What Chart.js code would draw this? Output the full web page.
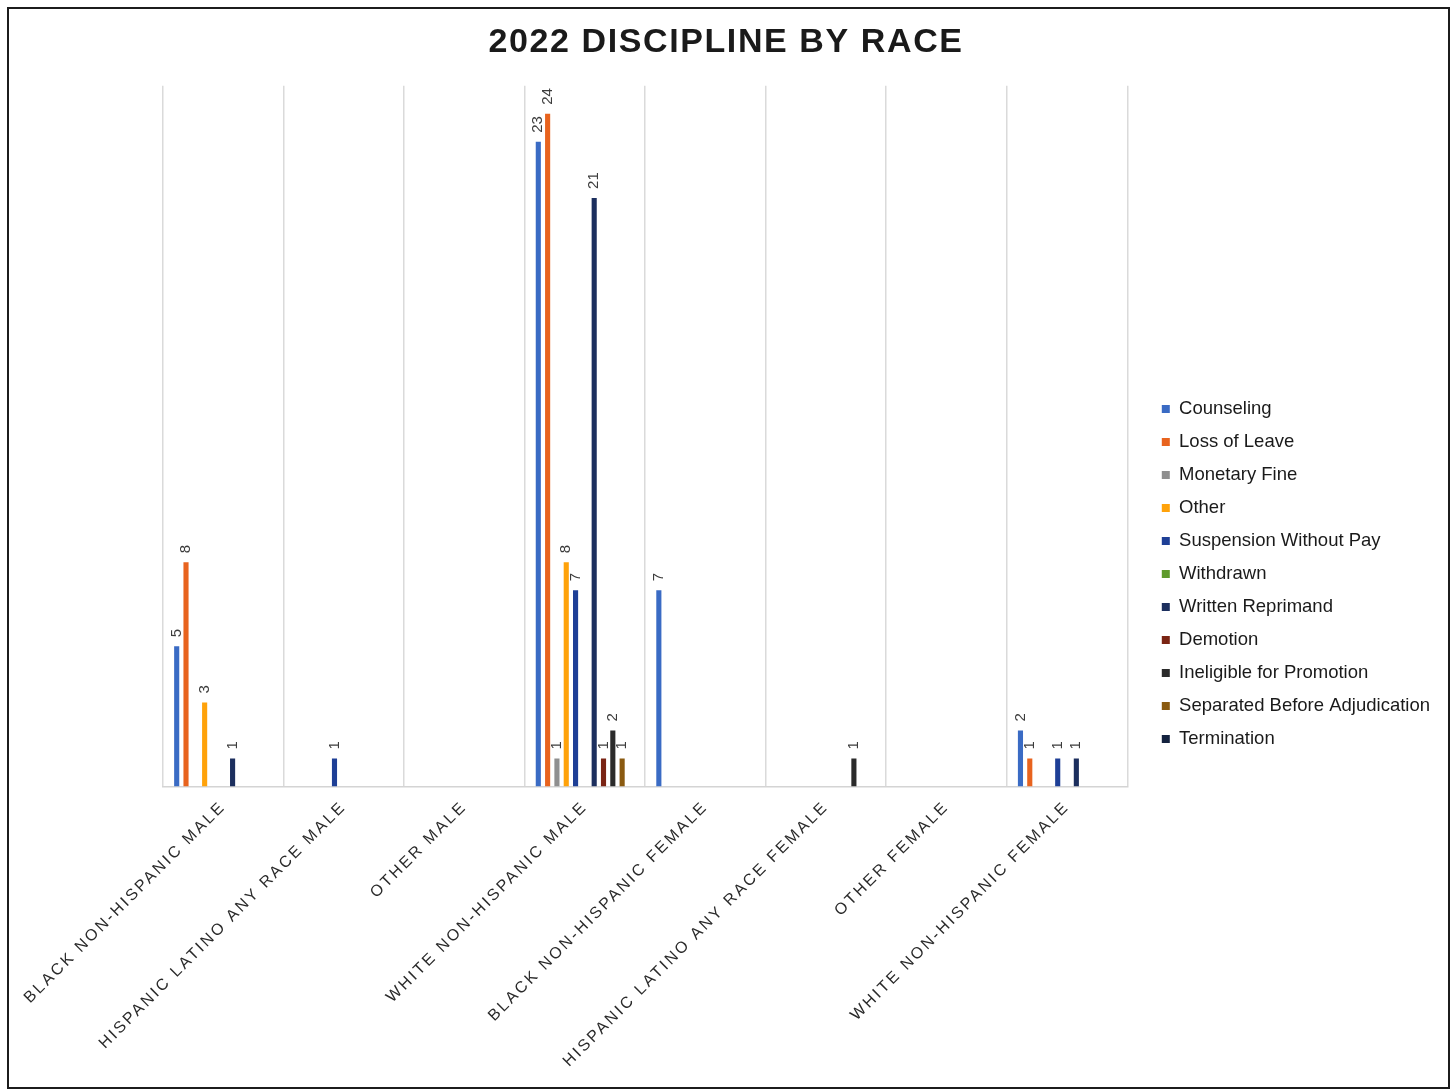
<!DOCTYPE html>
<html>
<head>
<meta charset="utf-8">
<title>2022 Discipline by Race</title>
<script src="https://cdn.jsdelivr.net/npm/chart.js@4.4.1/dist/chart.umd.min.js"></script>
<style>
  html, body { margin: 0; padding: 0; background: #fff; }
  #wrap { position: relative; width: 1455px; height: 1090px; }
  #chart { position: absolute; left: 0; top: 0; }
  #frame {
    position: absolute; left: 7px; top: 7px; width: 1443px; height: 1082px;
    box-sizing: border-box; border: 2px solid #1c1c1c; pointer-events: none;
  }
</style>
</head>
<body>
<div id="wrap">
  <canvas id="chart" width="1455" height="1090"></canvas>
  <div id="frame"></div>
</div>
<script>
// Categories (race / sex groups)
const categories = [
  'BLACK NON-HISPANIC MALE',
  'HISPANIC LATINO ANY RACE MALE',
  'OTHER MALE',
  'WHITE NON-HISPANIC MALE',
  'BLACK NON-HISPANIC FEMALE',
  'HISPANIC LATINO ANY RACE FEMALE',
  'OTHER FEMALE',
  'WHITE NON-HISPANIC FEMALE'
];

// Discipline types, one series each (null = no cases)
const counseling         = [5, null, null, 23, 7, null, null, 2];
const lossOfLeave        = [8, null, null, 24, null, null, null, 1];
const monetaryFine       = [null, null, null, 1, null, null, null, null];
const other              = [3, null, null, 8, null, null, null, null];
const suspensionNoPay    = [null, 1, null, 7, null, null, null, 1];
const withdrawn          = [null, null, null, null, null, null, null, null];
const writtenReprimand   = [1, null, null, 21, null, null, null, 1];
const demotion           = [null, null, null, 1, null, null, null, null];
const ineligiblePromo    = [null, null, null, 2, null, 1, null, null];
const separatedBeforeAdj = [null, null, null, 1, null, null, null, null];
const termination        = [null, null, null, null, null, null, null, null];

const seriesNames = [
  'Counseling', 'Loss of Leave', 'Monetary Fine', 'Other', 'Suspension Without Pay',
  'Withdrawn', 'Written Reprimand', 'Demotion', 'Ineligible for Promotion',
  'Separated Before Adjudication', 'Termination'
];
const seriesValues = [
  counseling, lossOfLeave, monetaryFine, other, suspensionNoPay,
  withdrawn, writtenReprimand, demotion, ineligiblePromo,
  separatedBeforeAdj, termination
];
const seriesColors = [
  '#3a6bc4', '#e8631e', '#8f8f8f', '#ffa20a', '#1e3f96',
  '#5e9a2c', '#1c2f5e', '#7a2414', '#2b2b2b', '#8a5a10', '#14223f'
];

const FONT = '"Liberation Sans", Arial, sans-serif';
const AXIS_SPACING = '2.5px';
const TITLE_SPACING = '1.6px';

const datasets = seriesNames.map((name, i) => ({
  label: name,
  data: seriesValues[i],
  backgroundColor: seriesColors[i],
  borderWidth: 0,
  categoryPercentage: 0.85,
  barPercentage: 0.55
}));

// Wider letter spacing for the category labels and the title
const letterSpacing = {
  id: 'letterSpacing',
  afterInit(chart) {
    const ctx = chart.ctx;
    const tb = chart.titleBlock;
    if (tb && !tb._spaced) {
      const draw = tb.draw.bind(tb);
      tb.draw = function () { ctx.letterSpacing = TITLE_SPACING; draw(); ctx.letterSpacing = '0px'; };
      tb._spaced = true;
    }
  },
  beforeDraw(chart) {
    const ctx = chart.ctx;
    const sx = chart.scales.x;
    if (sx && !sx._spaced) {
      const drawLabels = sx.drawLabels.bind(sx);
      sx.drawLabels = function (area) { ctx.letterSpacing = AXIS_SPACING; drawLabels(area); ctx.letterSpacing = '0px'; };
      sx._spaced = true;
    }
  }
};

// Value labels, written vertically above each bar
const valueLabels = {
  id: 'valueLabels',
  afterDatasetsDraw(chart) {
    const ctx = chart.ctx;
    ctx.save();
    ctx.font = '15px ' + FONT;
    ctx.fillStyle = '#3c3c3c';
    ctx.textAlign = 'left';
    ctx.textBaseline = 'middle';
    chart.data.datasets.forEach((ds, di) => {
      const meta = chart.getDatasetMeta(di);
      if (meta.hidden) return;
      meta.data.forEach((bar, idx) => {
        const v = ds.data[idx];
        if (v === null || v === undefined) return;
        ctx.save();
        ctx.translate(bar.x, bar.y - 9);
        ctx.rotate(-Math.PI / 2);
        ctx.fillText(String(v), 0, 0);
        ctx.restore();
      });
    });
    ctx.restore();
  }
};

new Chart(document.getElementById('chart'), {
  type: 'bar',
  data: { labels: categories, datasets },
  plugins: [letterSpacing, valueLabels],
  options: {
    responsive: false,
    animation: false,
    events: [],
    layout: { padding: { left: 12, right: 15, top: 0, bottom: 8 } },
    scales: {
      x: {
        grid: { color: '#dadada', lineWidth: 1.5, drawTicks: false, offset: true },
        border: { color: '#d4d4d4', width: 1.5 },
        ticks: {
          minRotation: 45, maxRotation: 45, padding: 11,
          color: '#2a2a2a',
          font: { family: FONT, size: 16 }
        },
        beforeCalculateLabelRotation(scale) { scale.ctx.letterSpacing = AXIS_SPACING; },
        afterFit(scale) { scale.ctx.letterSpacing = '0px'; }
      },
      y: {
        position: 'left', display: true, min: 0, max: 25,
        grid: { display: false }, border: { display: false },
        ticks: { display: false },
        afterFit(scale) { scale.width = 151; }
      },
      gap: {
        type: 'linear', position: 'right', display: true,
        grid: { display: false }, border: { display: false },
        ticks: { display: false },
        afterFit(scale) { scale.width = 20; }
      }
    },
    plugins: {
      title: {
        display: true,
        text: '2022 DISCIPLINE BY RACE',
        color: '#1a1a1a',
        font: { family: FONT, size: 34, weight: 'bold' },
        padding: { top: 22, bottom: 23 }
      },
      legend: {
        position: 'right',
        align: 'center',
        maxWidth: 400,
        title: { display: true, text: '', font: { size: 10 }, padding: { top: 54, bottom: 0 } },
        labels: {
          boxWidth: 8, boxHeight: 8, padding: 14.5,
          color: '#1a1a1a',
          font: { family: FONT, size: 18.5 }
        }
      },
      tooltip: { enabled: false }
    }
  }
});
</script>
</body>
</html>
